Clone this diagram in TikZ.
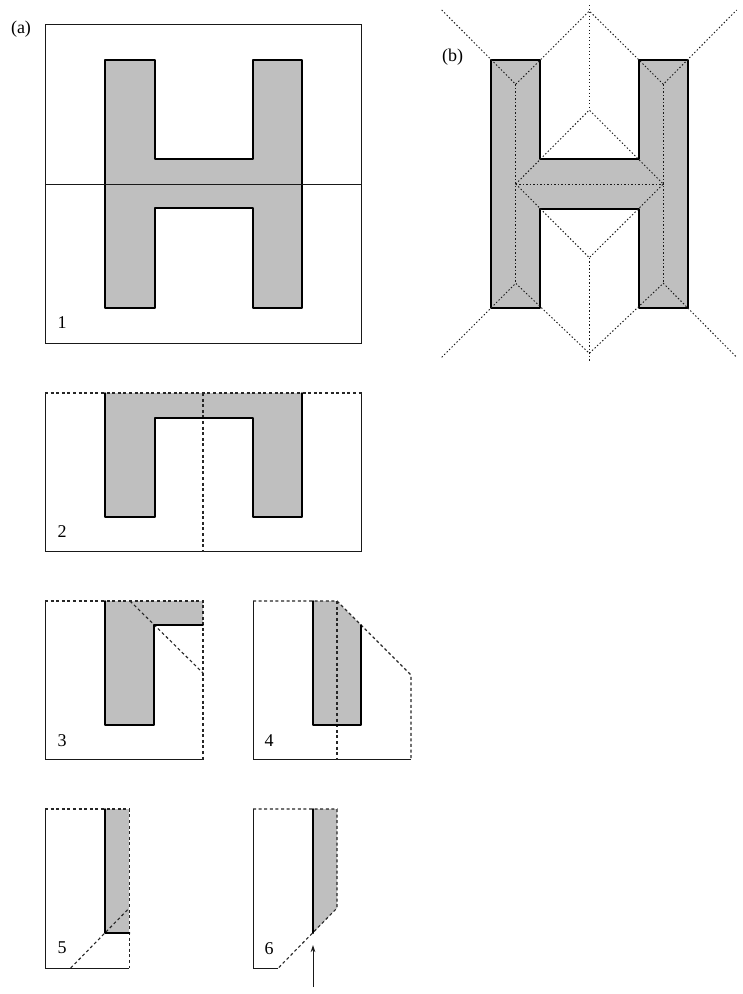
\documentclass[tikz,border=0pt]{standalone}
\usepackage{fontspec}
\usetikzlibrary{arrows.meta}
\setmainfont{Liberation Serif}
\tikzset{
  greyfill/.style={fill=black!25,draw=none},
  thin line/.style={line width=1pt,black!90},
  outline/.style={line width=2pt,line cap=round,line join=round},
  cut/.style={line width=1.1pt,dash pattern=on 3pt off 2.6pt,black!85},
  skel/.style={line width=0.95pt,dash pattern=on 1.4pt off 2.1pt,black!90},
  lab/.style={inner sep=0pt,font=\fontsize{18}{20}\selectfont}
}
\begin{document}
\begin{tikzpicture}[x=1pt,y=-1pt]
\useasboundingbox (0,0) rectangle (743,994);
% panel 1
\path[greyfill] (105,60)--(155,60)--(155,159)--(253,159)--(253,60)--(302,60)--(302,308)--(253,308)--(253,208)--(155,208)--(155,308)--(105,308)--cycle;
\draw[thin line] (45,24) rectangle (361,343);
\draw[outline] (105,60)--(155,60)--(155,159)--(253,159)--(253,60)--(302,60)--(302,308)--(253,308)--(253,208)--(155,208)--(155,308)--(105,308)--cycle;
\draw[thin line] (45,184)--(361,184);
\node[lab] (tA) at (21,29) {(a)};
\node[lab] (t1) at (62,323) {1};
% panel b
\path[greyfill] (491.3,60)--(540.3,60)--(540.3,159)--(639,159)--(639,60)--(688.3,60)--(688.3,308)--(639,308)--(639,209)--(540.3,209)--(540.3,308)--(491.3,308)--cycle;
\draw[outline] (491.3,60)--(540.3,60)--(540.3,159)--(639,159)--(639,60)--(688.3,60)--(688.3,308)--(639,308)--(639,209)--(540.3,209)--(540.3,308)--(491.3,308)--cycle;
\draw[skel] (441.7,10)--(515.7,84.3)--(540.3,60)--(589.3,11)--(639,60)--(663.3,84.3)--(736.7,10);
\draw[skel] (589.3,5)--(589.3,110);
\draw[skel] (515.7,84.3)--(515.7,283.3);
\draw[skel] (663.3,84.3)--(663.3,283.3);
\draw[skel] (515.7,184)--(663.3,184);
\draw[skel] (515.7,184)--(589.3,110)--(663.3,184);
\draw[skel] (515.7,184)--(589.3,257.7)--(663.3,184);
\draw[skel] (589.3,257.7)--(589.3,361.7);
\draw[skel] (441.7,357.3)--(515.7,283.3)--(589.3,353.3)--(663.3,283.3)--(736.7,357.3);
\node[lab] (tB) at (452.5,57) {(b)};
% panel 2
\path[greyfill] (105,393)--(302,393)--(302,516.5)--(253,516.5)--(253,417.5)--(155,417.5)--(155,516.5)--(105,516.5)--cycle;
\draw[thin line] (45,393)--(45,551.5)--(361.5,551.5)--(361.5,393);
\draw[cut] (45,393)--(361.5,393);
\draw[cut] (203,393)--(203,551.5);
\draw[outline] (105,393)--(105,516.5)--(155,516.5)--(155,417.5)--(253,417.5)--(253,516.5)--(302,516.5)--(302,393);
\node[lab] (t2) at (62,532) {2};
% panel 3
\path[greyfill] (105,601)--(203,601)--(203,625)--(154,625)--(154,725)--(105,725)--cycle;
\draw[thin line] (45,601)--(45,759.5)--(203,759.5);
\draw[cut] (45,601)--(203,601)--(203,759.5);
\draw[cut] (130,601)--(203,673);
\draw[outline] (105,601)--(105,725)--(154,725)--(154,625)--(203,625);
\node[lab] (t3) at (62,741) {3};
% panel 4
\path[greyfill] (313,601)--(337,601)--(361,625)--(361,725)--(313,725)--cycle;
\draw[thin line] (253,601)--(253,759.5)--(411,759.5);
\draw[cut] (253,601)--(337,601)--(411,675)--(411,759.5);
\draw[cut] (337,601)--(337,759.5);
\draw[outline] (313,601)--(313,725)--(361,725)--(361,625);
\node[lab] (t4) at (269,741) {4};
% panel 5
\path[greyfill] (105,809)--(129.3,809)--(129.3,933)--(105,933)--cycle;
\draw[thin line] (45,809)--(45,968)--(129.3,968);
\draw[cut] (45,809)--(129.3,809)--(129.3,968);
\draw[cut] (70.7,968)--(129.3,908);
\draw[outline] (105,809)--(105,933)--(129.3,933);
\node[lab] (t5) at (62,948) {5};
% panel 6
\path[greyfill] (313,809)--(337,809)--(337,908)--(313,933)--cycle;
\draw[thin line] (278.3,968)--(253,968)--(253,809);
\draw[cut] (253,809)--(337,809)--(337,908)--(278.3,968);
\draw[outline] (313,809)--(313,933);
\node[lab] (t6) at (269,949) {6};
\coordinate (arrowfoot) at (313,987);
\coordinate (arrowhead) at (313,945);
\draw[thin line,-{Stealth[length=7pt,width=4.5pt]}] (arrowfoot)--(arrowhead);
\end{tikzpicture}
\end{document}
